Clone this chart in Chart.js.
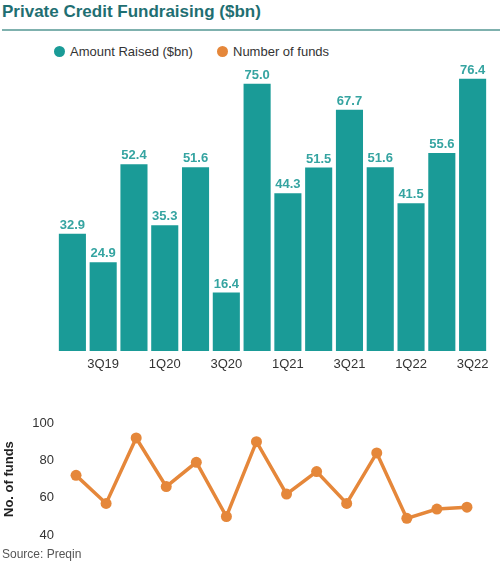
<!DOCTYPE html>
<html>
<head>
<meta charset="utf-8">
<script src="https://cdn.jsdelivr.net/npm/chart.js@4.4.0/dist/chart.umd.min.js"></script>
<style>
  body { margin: 0; background: #fff; font-family: "Liberation Sans", Arial, sans-serif; }
  #wrap { position: relative; width: 500px; height: 566px; overflow: hidden; }
  #title { position: absolute; left: 2px; top: 2px; font-size: 17px; font-weight: bold; color: #1f6f72; }
  #rule { position: absolute; left: 2px; right: 0; top: 29px; height: 2px; background: #7fb1ae; }
  .leg { position: absolute; top: 44px; font-size: 13px; color: #333; line-height: 16px; }
  .dot { display: inline-block; width: 11px; height: 11px; border-radius: 50%; vertical-align: -1px; margin-right: 5px; }
  #source { position: absolute; left: 2px; top: 547px; font-size: 12px; color: #555; }
  #barBox { position: absolute; left: 0; top: 60px; width: 500px; height: 320px; }
  #lineBox { position: absolute; left: 0; top: 400px; width: 500px; height: 150px; }
</style>
</head>
<body>
<div id="wrap">
  <div id="title">Private Credit Fundraising ($bn)</div>
  <div id="rule"></div>
  <div class="leg" style="left:54px"><span class="dot" style="background:#1a9b97"></span>Amount Raised ($bn)</div>
  <div class="leg" style="left:217px"><span class="dot" style="background:#e5873a"></span>Number of funds</div>
  <div id="barBox"><canvas id="barChart"></canvas></div>
  <div id="lineBox"><canvas id="lineChart"></canvas></div>
  <div id="source">Source: Preqin</div>
</div>
<script>
// Quarters, 2Q19 .. 3Q22
const quarters = ["2Q19", "3Q19", "4Q19", "1Q20", "2Q20", "3Q20", "4Q20",
  "1Q21", "2Q21", "3Q21", "4Q21", "1Q22", "2Q22", "3Q22"];
const amountRaised = [32.9, 24.9, 52.4, 35.3, 51.6, 16.4, 75.0, 44.3, 51.5, 67.7, 51.6, 41.5, 55.6, 76.4];
const numberOfFunds = [72, 57, 92, 66, 79, 50, 90, 62, 74, 57, 84, 49, 54, 55];
const fundTicks = [40, 60, 80, 100];

const teal = "#1a9b97";
const orange = "#e5873a";

// value labels above the bars
const barLabels = {
  id: "barLabels",
  afterDatasetsDraw(chart) {
    const ctx = chart.ctx;
    const meta = chart.getDatasetMeta(0);
    ctx.save();
    ctx.font = "bold 13px 'Liberation Sans', Arial, sans-serif";
    ctx.fillStyle = "#35a4a1";
    ctx.textAlign = "center";
    ctx.textBaseline = "bottom";
    meta.data.forEach((bar, i) => {
      ctx.fillText(amountRaised[i].toFixed(1), bar.x, bar.y - 2);
    });
    ctx.restore();
  },
};

const barCtx = document.getElementById("barChart").getContext("2d");
const barChart = new Chart(barCtx, {
  type: "bar",
  data: {
    labels: quarters,
    datasets: [
      {
        label: "Amount Raised ($bn)",
        data: amountRaised,
        backgroundColor: teal,
        barPercentage: 0.88,
        categoryPercentage: 1.0,
      },
    ],
  },
  options: {
    responsive: true,
    maintainAspectRatio: false,
    animation: false,
    layout: { padding: { left: 57, right: 12, top: 6, bottom: 0 } },
    plugins: { legend: { display: false }, tooltip: { enabled: false } },
    scales: {
      x: {
        grid: { display: false, drawTicks: false },
        border: { display: false },
        afterFit: (scale) => { scale.height = 29; },
        ticks: {
          autoSkip: false,
          maxRotation: 0,
          padding: 6,
          color: "#333",
          font: { size: 13, family: "'Liberation Sans', Arial, sans-serif" },
          callback: (v, i) => (i % 2 === 1 ? quarters[i] : ""),
        },
      },
      y: { display: false, min: 0, max: 80 },
    },
  },
  plugins: [barLabels],
});

const lineCtx = document.getElementById("lineChart").getContext("2d");
const lineChart = new Chart(lineCtx, {
  type: "line",
  data: {
    labels: quarters,
    datasets: [
      {
        label: "Number of funds",
        data: numberOfFunds,
        borderColor: orange,
        backgroundColor: orange,
        borderWidth: 3.5,
        pointRadius: 5.5,
        pointBorderWidth: 0,
        tension: 0,
      },
    ],
  },
  options: {
    responsive: true,
    maintainAspectRatio: false,
    animation: false,
    layout: { padding: { left: 0, right: 18, top: 23, bottom: 6 } },
    plugins: { legend: { display: false }, tooltip: { enabled: false } },
    scales: {
      x: { display: false, offset: true },
      y: {
        min: 40,
        max: 100,
        afterFit: (scale) => { scale.width = 61; },
        afterBuildTicks: (scale) => { scale.ticks = fundTicks.map((v) => ({ value: v })); },
        grid: { display: false, drawTicks: false },
        border: { display: false },
        ticks: {
          padding: 7,
          color: "#333",
          font: { size: 13, family: "'Liberation Sans', Arial, sans-serif" },
        },
        title: {
          display: true,
          text: "No. of funds",
          color: "#222",
          padding: 2,
          font: { size: 13, weight: "bold", family: "'Liberation Sans', Arial, sans-serif" },
        },
      },
    },
  },
});
</script>
</body>
</html>
